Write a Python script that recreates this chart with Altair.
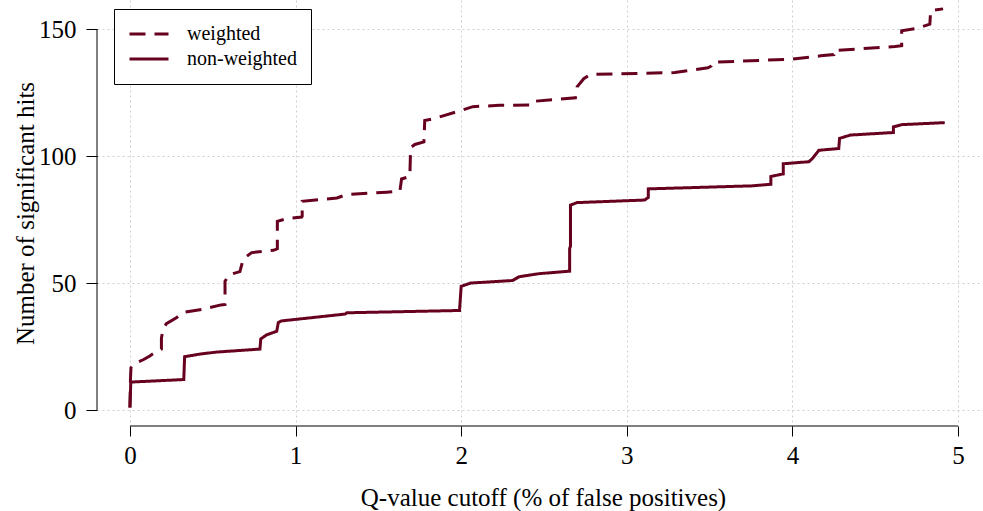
import altair as alt
import pandas as pd

# ---- data ----
series_names = ["weighted", "non-weighted"]

weighted_q = [0, 0.003, 0.006, 0.03, 0.08, 0.12, 0.17, 0.19, 0.19, 0.20, 0.22, 0.28, 0.32,
              0.44, 0.55, 0.574, 0.574, 0.60, 0.664, 0.684, 0.735, 0.866, 0.89, 0.89, 0.946,
              1.037, 1.04, 1.04, 1.25, 1.31, 1.55, 1.63, 1.64, 1.69, 1.695, 1.72, 1.775, 1.78,
              1.83, 1.99, 2.07, 2.23, 2.425, 2.44, 2.69, 2.70, 2.74, 2.78, 3.29, 3.49, 3.51,
              3.52, 4.0, 4.17, 4.25, 4.25, 4.62, 4.66, 4.66, 4.75, 4.83, 4.835, 4.91]
weighted_n = [1, 12, 16.6, 18.3, 19.8, 21.3, 23.5, 24, 28.3, 32, 34, 36.3, 38.4,
              39.7, 41.4, 41.6, 50.7, 53.3, 54.5, 59.5, 62, 62.9, 63.5, 74.3, 75.4,
              76, 76.3, 82.2, 83.5, 84.9, 85.8, 86.2, 91, 92, 103.4, 104.6, 105.6, 114,
              114.7, 117.8, 119.5, 120, 120.1, 121.6, 123, 127.3, 130.5, 132.2, 132.9, 134.8, 135.5,
              137, 138.2, 139.5, 140, 141.6, 143.2, 143.5, 149.4, 150.3, 152, 157.3, 158]

nonweighted_q = [0, 0.005, 0.325, 0.33, 0.42, 0.52, 0.785, 0.79, 0.825, 0.886, 0.896, 0.916,
                 1.30, 1.31, 1.99, 2.0, 2.056, 2.31, 2.35, 2.47, 2.655, 2.655, 2.66, 2.66, 2.70,
                 3.107, 3.13, 3.13, 3.76, 3.87, 3.87, 3.945, 3.945, 4.10, 4.12, 4.16, 4.28,
                 4.285, 4.35, 4.61, 4.61, 4.66, 4.92]
nonweighted_n = [1, 11, 12, 21, 22, 22.8, 24, 28, 29.6, 31, 34.5, 35.1,
                 37.8, 38.3, 39.2, 48.7, 50, 51, 52.5, 53.7, 54.7, 63.6, 64.5, 80.7, 81.7,
                 82.7, 83.7, 87.1, 88.3, 88.9, 92, 93, 97, 97.8, 99, 102.3, 103,
                 107, 108.3, 109.3, 111.5, 112.4, 113.2]

x_ticks = [0, 1, 2, 3, 4, 5]
y_ticks = [0, 50, 100, 150]

# ---- table ----
rows = []
for i, (q, n) in enumerate(zip(weighted_q, weighted_n)):
    rows.append({"q": q, "n": n, "series": series_names[0], "i": i})
for i, (q, n) in enumerate(zip(nonweighted_q, nonweighted_n)):
    rows.append({"q": q, "n": n, "series": series_names[1], "i": i})
df = pd.DataFrame(rows)

X_DOMAIN = [-0.199, 5.151]
Y_DOMAIN = [-6.3, 161.5]
FONT = "Liberation Serif"
COLOR = "#67001F"
X_TITLE = "Q-value cutoff (% of false positives)"
Y_TITLE = "Number of significant hits"

xs = alt.Scale(domain=X_DOMAIN, nice=False, zero=False)
ys = alt.Scale(domain=Y_DOMAIN, nice=False, zero=False)

x_axis = alt.Axis(values=x_ticks, title=X_TITLE, domain=False,
                  grid=True, gridDash=[2, 3], gridColor="#cfcfcf", gridWidth=1,
                  tickSize=10, tickColor="black", tickWidth=1,
                  labelFont=FONT, labelFontSize=25, labelColor="black",
                  labelBaseline="alphabetic", labelPadding=27, labelFlush=False,
                  titleFont=FONT, titleFontSize=25, titleFontWeight="normal", titleColor="black",
                  titleBaseline="alphabetic", titleY=79, titleX=446, titleAlign="center")
y_axis = alt.Axis(values=y_ticks, title=Y_TITLE, domain=False,
                  grid=True, gridDash=[2, 3], gridColor="#cfcfcf", gridWidth=1,
                  tickSize=11, tickColor="black", tickWidth=1,
                  labelFont=FONT, labelFontSize=25, labelColor="black",
                  labelBaseline="middle", labelPadding=10, labelFlush=False,
                  titleFont=FONT, titleFontSize=25, titleFontWeight="normal", titleColor="black",
                  titleAngle=-90, titleBaseline="alphabetic", titleX=-64, titleY=213,
                  titleAlign="center")

lines = alt.Chart(df).mark_line(color=COLOR, strokeWidth=3, interpolate="linear").encode(
    x=alt.X("q:Q", scale=xs, axis=x_axis, title=X_TITLE),
    y=alt.Y("n:Q", scale=ys, axis=y_axis, title=Y_TITLE),
    strokeDash=alt.StrokeDash(
        "series:N",
        scale=alt.Scale(domain=series_names, range=[[16, 9], [1, 0]]),
        legend=alt.Legend(title=None, orient="none", legendX=17, legendY=9,
                          strokeColor="black", fillColor="white", padding=14,
                          labelFont=FONT, labelFontSize=20, labelColor="black",
                          symbolType="stroke", symbolSize=1521, symbolStrokeWidth=3,
                          symbolStrokeColor=COLOR, labelOffset=17,
                          clipHeight=22, rowPadding=3),
    ),
    order="i:Q",
)

# axis lines (span only the tick range, as in the reference)
xline_df = pd.DataFrame({"q": [x_ticks[0]], "q2": [x_ticks[-1]], "n": [Y_DOMAIN[0]]})
yline_df = pd.DataFrame({"n": [y_ticks[0]], "n2": [y_ticks[-1]], "q": [X_DOMAIN[0]]})

xline = alt.Chart(xline_df).mark_rule(color="black", strokeWidth=1).encode(
    x=alt.X("q:Q", scale=xs, axis=x_axis, title=X_TITLE), x2="q2:Q",
    y=alt.Y("n:Q", scale=ys, axis=y_axis, title=Y_TITLE))
yline = alt.Chart(yline_df).mark_rule(color="black", strokeWidth=1).encode(
    y=alt.Y("n:Q", scale=ys, axis=y_axis, title=Y_TITLE), y2="n2:Q",
    x=alt.X("q:Q", scale=xs, axis=x_axis, title=X_TITLE))

chart = alt.layer(lines, xline, yline).properties(
    width=886, height=426,
    background="white",
    autosize=alt.AutoSizeParams(type="none"),
    padding={"left": 97, "top": 0, "right": 0, "bottom": 85},
).configure_view(strokeWidth=0, stroke="transparent")

chart.save("out.html", embed_options={"renderer": "svg", "actions": False})
